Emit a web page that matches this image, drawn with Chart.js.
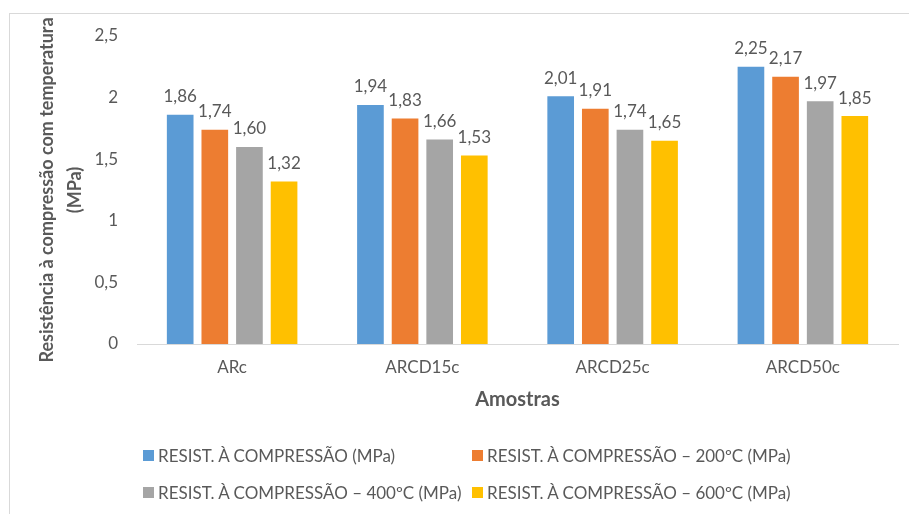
<!DOCTYPE html>
<html>
<head>
<meta charset="utf-8">
<script src="https://cdn.jsdelivr.net/npm/chart.js@4/dist/chart.umd.min.js"></script>
<style>
  html, body { margin: 0; padding: 0; background: #ffffff; }
  #wrap { position: relative; width: 909px; height: 514px; overflow: hidden; background: #ffffff; }
  #frame { position: absolute; left: 9px; top: 13px; width: 920px; height: 520px; border: 1px solid #d9d9d9; box-sizing: border-box; }
  #chart { position: absolute; left: 0; top: 0; }
  #legend { position: absolute; left: 143px; top: 441px; display: grid;
            grid-template-columns: 329px auto; row-gap: 9px;
            font-family: Lato, "Open Sans", sans-serif; font-size: 17px; color: #595959; }
  .item { display: flex; align-items: center; height: 28px; white-space: nowrap; }
  .box { width: 11px; height: 11px; margin-right: 4px; flex: none; }
</style>
</head>
<body>
<div id="wrap">
  <div id="frame"></div>
  <canvas id="chart" width="909" height="514"></canvas>
  <div id="legend"></div>
</div>
<script>
// Compressive strength of the samples after heating
const categories = ['ARc', 'ARCD15c', 'ARCD25c', 'ARCD50c'];
const seriesNames = [
  'RESIST. À COMPRESSÃO (MPa)',
  'RESIST. À COMPRESSÃO – 200ºC (MPa)',
  'RESIST. À COMPRESSÃO – 400ºC (MPa)',
  'RESIST. À COMPRESSÃO – 600ºC (MPa)'
];
const ambient = [1.86, 1.94, 2.01, 2.25];
const temp200 = [1.74, 1.83, 1.91, 2.17];
const temp400 = [1.60, 1.66, 1.74, 1.97];
const temp600 = [1.32, 1.53, 1.65, 1.85];
const yTicks = [0, 0.5, 1, 1.5, 2, 2.5];

const colors = ['#5b9bd5', '#ed7d31', '#a5a5a5', '#ffc000'];
const textColor = '#595959';
const fontFamily = 'Lato, "Open Sans", sans-serif';

const fmt = v => String(v).replace('.', ',');
const fmt2 = v => v.toFixed(2).replace('.', ',');

// Value labels written above each bar
const valueLabels = {
  id: 'valueLabels',
  afterDatasetsDraw(chart) {
    const ctx = chart.ctx;
    ctx.save();
    ctx.font = '17px ' + fontFamily;
    ctx.fillStyle = textColor;
    ctx.textAlign = 'center';
    ctx.textBaseline = 'middle';
    chart.data.datasets.forEach((ds, i) => {
      const meta = chart.getDatasetMeta(i);
      meta.data.forEach((bar, j) => {
        ctx.fillText(fmt2(ds.data[j]), bar.x, bar.y - 18);
      });
    });
    ctx.restore();
  }
};

const chart = new Chart(document.getElementById('chart'), {
  type: 'bar',
  data: {
    labels: categories,
    datasets: [ambient, temp200, temp400, temp600].map((d, i) => ({
      label: seriesNames[i],
      data: d,
      backgroundColor: colors[i],
      borderWidth: 0,
      barPercentage: 0.77,
      categoryPercentage: 0.728
    }))
  },
  options: {
    responsive: false,
    animation: false,
    layout: { padding: { left: 33, top: 36, right: 11, bottom: 102 } },
    plugins: { legend: { display: false }, tooltip: { enabled: false } },
    scales: {
      x: {
        grid: { display: false, drawTicks: false },
        border: { display: true, color: '#d9d9d9', width: 1 },
        ticks: { color: textColor, font: { family: fontFamily, size: 17 }, padding: 13 },
        title: {
          display: true, text: 'Amostras', color: textColor,
          font: { family: fontFamily, size: 20, weight: 'bold' }, padding: 0
        },
        afterFit(scale) { scale.height = 68; }
      },
      y: {
        min: 0, max: 2.5,
        grid: { display: false, drawTicks: false },
        border: { display: false },
        afterBuildTicks(scale) { scale.ticks = yTicks.map(v => ({ value: v })); },
        ticks: {
          color: textColor, font: { family: fontFamily, size: 17 }, padding: 19,
          callback: v => fmt(v)
        },
        title: {
          display: true,
          text: ['Resistência à compressão com temperatura', '(MPa)'],
          color: textColor,
          font: { family: fontFamily, size: 18, weight: 'bold', lineHeight: 1.55 },
          padding: 0
        },
        afterFit(scale) { scale.width = 104; }
      }
    }
  },
  plugins: [valueLabels]
});

// Two-column legend built from the datasets
const legend = document.getElementById('legend');
chart.data.datasets.forEach(ds => {
  const item = document.createElement('div');
  item.className = 'item';
  const box = document.createElement('span');
  box.className = 'box';
  box.style.background = ds.backgroundColor;
  const label = document.createElement('span');
  label.textContent = ds.label;
  item.appendChild(box);
  item.appendChild(label);
  legend.appendChild(item);
});
</script>
</body>
</html>
